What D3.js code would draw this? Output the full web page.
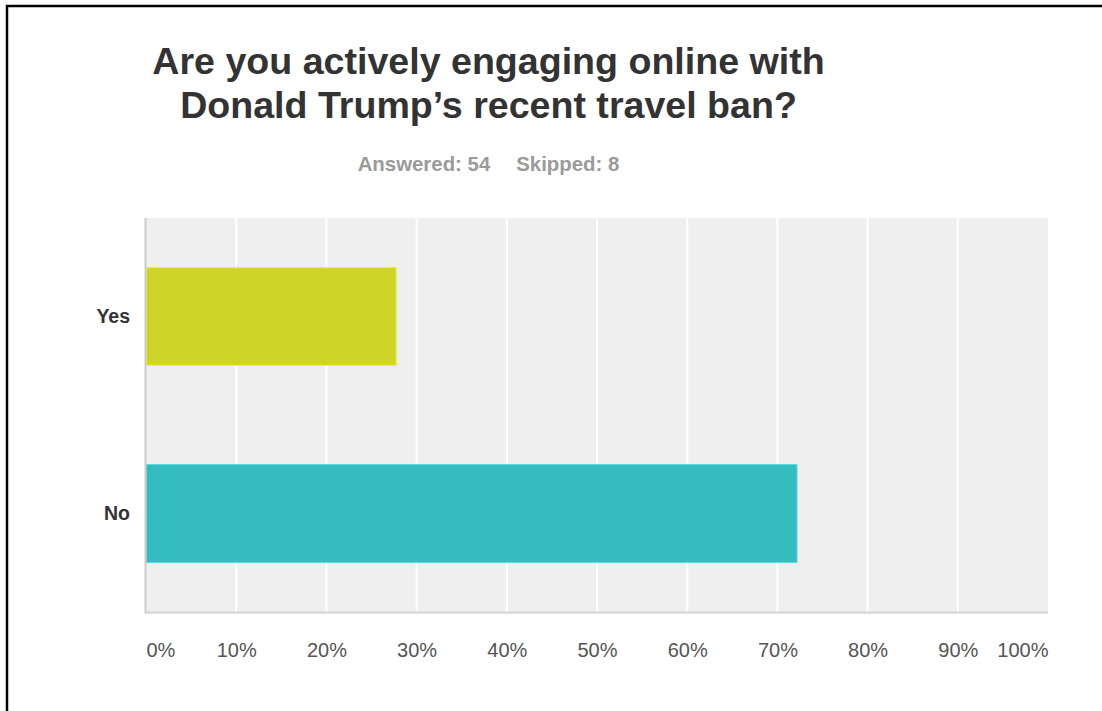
<!DOCTYPE html>
<html>
<head>
<meta charset="utf-8">
<script src="https://cdn.jsdelivr.net/npm/d3@7"></script>
<style>
  html, body { margin: 0; padding: 0; background: #fff; }
  svg { display: block; }
</style>
</head>
<body>
<script>
// Survey question and response counts
const titleLines = ["Are you actively engaging online with", "Donald Trump’s recent travel ban?"];
const answered = 54;
const skipped = 8;
const categories = ["Yes", "No"];
const percentages = [27.78, 72.22];
const barColors = ["#cfd428", "#33bdbf"];
const tickValues = [0, 10, 20, 30, 40, 50, 60, 70, 80, 90, 100];

const W = 1102, H = 711;
const plot = { left: 146, right: 1048, top: 218, bottom: 612 };

const svg = d3.select("body").append("svg")
  .attr("width", W).attr("height", H);

// outer frame (left and top edges visible)
svg.append("rect")
  .attr("x", 7).attr("y", 6)
  .attr("width", W + 20).attr("height", H + 20)
  .attr("fill", "#fff").attr("stroke", "#000").attr("stroke-width", 2.5);

const font = "Arial, 'Liberation Sans', Helvetica, sans-serif";

// title
const title = svg.append("g").attr("font-family", font)
  .attr("font-weight", "bold").attr("font-size", 37.6).attr("fill", "#333")
  .attr("text-anchor", "middle");
titleLines.forEach((t, i) => {
  title.append("text").attr("x", 488.5).attr("y", 73.5 + i * 44).text(t);
});

// answered / skipped line
const sub = svg.append("text").attr("font-family", font).attr("font-weight", "bold")
  .attr("font-size", 20.4).attr("fill", "#9a9a9a").attr("text-anchor", "middle")
  .attr("x", 488.5).attr("y", 171);
sub.append("tspan").text(`Answered: ${answered}`);
sub.append("tspan").attr("dx", 26).text(`Skipped: ${skipped}`);

// scales
const x = d3.scaleLinear().domain([0, 100]).range([plot.left, plot.right]);
const y = d3.scaleBand().domain(categories)
  .range([plot.top, plot.bottom]).paddingInner(0.5).paddingOuter(0.25);

// plot background
svg.append("rect")
  .attr("x", plot.left).attr("y", plot.top)
  .attr("width", plot.right - plot.left).attr("height", plot.bottom - plot.top)
  .attr("fill", "#efefef");

// vertical gridlines
svg.append("g").selectAll("line")
  .data(tickValues.filter(v => v > 0 && v < 100))
  .join("line")
  .attr("x1", d => x(d)).attr("x2", d => x(d))
  .attr("y1", plot.top).attr("y2", plot.bottom)
  .attr("stroke", "#fff").attr("stroke-width", 2);

// bars
svg.append("g").selectAll("rect")
  .data(categories)
  .join("rect")
  .attr("x", x(0) + 0.5)
  .attr("y", d => y(d) + 0.5)
  .attr("width", (d, i) => x(percentages[i]) - x(0) - 1)
  .attr("height", y.bandwidth() - 1)
  .attr("fill", (d, i) => barColors[i])
  .attr("stroke", (d, i) => d3.color(barColors[i]).brighter(0.35))
  .attr("stroke-width", 1);

// axis lines
svg.append("line")
  .attr("x1", plot.left - 0.5).attr("x2", plot.right)
  .attr("y1", plot.bottom + 0.5).attr("y2", plot.bottom + 0.5)
  .attr("stroke", "#d9d9d9").attr("stroke-width", 2.5);
svg.append("line")
  .attr("x1", plot.left - 0.5).attr("x2", plot.left - 0.5)
  .attr("y1", plot.top).attr("y2", plot.bottom + 1.5)
  .attr("stroke", "#cccccc").attr("stroke-width", 2);

// category labels
svg.append("g").selectAll("text")
  .data(categories)
  .join("text")
  .attr("x", 130)
  .attr("y", d => y(d) + y.bandwidth() / 2)
  .attr("dy", "0.35em")
  .attr("text-anchor", "end")
  .attr("font-family", font).attr("font-weight", "bold")
  .attr("font-size", 19.5).attr("fill", "#333")
  .text(d => d);

// x tick labels
const xAxis = d3.axisBottom(x).tickValues(tickValues)
  .tickFormat(d => d + "%").tickSize(0).tickPadding(0);
const gx = svg.append("g")
  .attr("transform", `translate(0, ${plot.bottom})`)
  .call(xAxis);
gx.select(".domain").remove();
gx.selectAll("text")
  .attr("y", 45).attr("dy", null)
  .attr("font-family", font).attr("font-size", 20).attr("fill", "#555")
  .attr("text-anchor", (d, i) => i === 0 ? "start" : (i === tickValues.length - 1 ? "end" : "middle"));
</script>
</body>
</html>
